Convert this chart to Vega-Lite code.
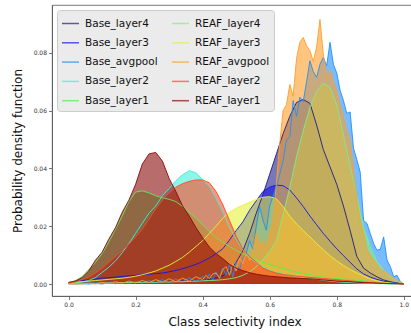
{
"$schema":"https://vega.github.io/schema/vega-lite/v6.json",
"width":365,"height":291,
"autosize":{"type":"none"},
"padding":{"left":52,"top":5,"right":0,"bottom":37},
"config":{"font":"DejaVu Sans","view":{"stroke":"#555555","strokeWidth":0.8},
"axis":{"grid":false,"labelFontSize":6,"labelColor":"#333333","domainColor":"#555555","tickColor":"#555555","tickSize":3.5,"domainWidth":0.8,"tickWidth":0.8,"labelPadding":2,"titleFontSize":12,"titleFontWeight":"normal","titleColor":"#111111","titlePadding":9},
"legend":{"orient":"top-left","offset":5,"columns":2,"symbolType":"stroke","symbolSize":289,"symbolStrokeWidth":1.5,"symbolOpacity":0.7,"labelFontSize":10.5,"labelColor":"#111111","fillColor":"#ebebeb","strokeColor":"#cccccc","cornerRadius":3,"padding":4,"rowPadding":4.3,"columnPadding":11,"labelOffset":5}},
"datasets":{"d":[
{"s":"Base_layer4","x":0,"y":0.0002},{"s":"Base_layer4","x":0.02,"y":0.0003},{"s":"Base_layer4","x":0.04,"y":0.0003},{"s":"Base_layer4","x":0.06,"y":0.0004},{"s":"Base_layer4","x":0.08,"y":0.0004},{"s":"Base_layer4","x":0.1,"y":0.0005},{"s":"Base_layer4","x":0.12,"y":0.0005},{"s":"Base_layer4","x":0.14,"y":0.0005},{"s":"Base_layer4","x":0.16,"y":0.0006},{"s":"Base_layer4","x":0.18,"y":0.0006},{"s":"Base_layer4","x":0.2,"y":0.0006},{"s":"Base_layer4","x":0.22,"y":0.0007},{"s":"Base_layer4","x":0.24,"y":0.0007},{"s":"Base_layer4","x":0.26,"y":0.0007},{"s":"Base_layer4","x":0.28,"y":0.0008},{"s":"Base_layer4","x":0.3,"y":0.0008},{"s":"Base_layer4","x":0.32,"y":0.0009},{"s":"Base_layer4","x":0.34,"y":0.001},{"s":"Base_layer4","x":0.36,"y":0.0011},{"s":"Base_layer4","x":0.38,"y":0.0012},{"s":"Base_layer4","x":0.4,"y":0.0014},{"s":"Base_layer4","x":0.42,"y":0.0017},{"s":"Base_layer4","x":0.44,"y":0.0021},{"s":"Base_layer4","x":0.46,"y":0.0028},{"s":"Base_layer4","x":0.48,"y":0.0045},{"s":"Base_layer4","x":0.5,"y":0.0075},{"s":"Base_layer4","x":0.52,"y":0.0115},{"s":"Base_layer4","x":0.54,"y":0.0175},{"s":"Base_layer4","x":0.56,"y":0.0245},{"s":"Base_layer4","x":0.58,"y":0.031},{"s":"Base_layer4","x":0.6,"y":0.038},{"s":"Base_layer4","x":0.62,"y":0.045},{"s":"Base_layer4","x":0.64,"y":0.052},{"s":"Base_layer4","x":0.66,"y":0.058},{"s":"Base_layer4","x":0.68,"y":0.0628},{"s":"Base_layer4","x":0.7,"y":0.0638},{"s":"Base_layer4","x":0.72,"y":0.0625},{"s":"Base_layer4","x":0.74,"y":0.055},{"s":"Base_layer4","x":0.76,"y":0.0465},{"s":"Base_layer4","x":0.78,"y":0.0405},{"s":"Base_layer4","x":0.8,"y":0.0345},{"s":"Base_layer4","x":0.82,"y":0.027},{"s":"Base_layer4","x":0.84,"y":0.0185},{"s":"Base_layer4","x":0.86,"y":0.0095},{"s":"Base_layer4","x":0.88,"y":0.0055},{"s":"Base_layer4","x":0.9,"y":0.0038},{"s":"Base_layer4","x":0.92,"y":0.0025},{"s":"Base_layer4","x":0.94,"y":0.0014},{"s":"Base_layer4","x":0.96,"y":0.0008},{"s":"Base_layer4","x":0.98,"y":0.0003},{"s":"Base_layer4","x":1,"y":0},
{"s":"Base_layer3","x":0,"y":0.0005},{"s":"Base_layer3","x":0.02,"y":0.001},{"s":"Base_layer3","x":0.04,"y":0.0012},{"s":"Base_layer3","x":0.06,"y":0.0014},{"s":"Base_layer3","x":0.08,"y":0.0017},{"s":"Base_layer3","x":0.1,"y":0.002},{"s":"Base_layer3","x":0.12,"y":0.0022},{"s":"Base_layer3","x":0.14,"y":0.0024},{"s":"Base_layer3","x":0.16,"y":0.0026},{"s":"Base_layer3","x":0.18,"y":0.0028},{"s":"Base_layer3","x":0.2,"y":0.003},{"s":"Base_layer3","x":0.22,"y":0.0032},{"s":"Base_layer3","x":0.24,"y":0.0034},{"s":"Base_layer3","x":0.26,"y":0.0036},{"s":"Base_layer3","x":0.28,"y":0.0038},{"s":"Base_layer3","x":0.3,"y":0.0042},{"s":"Base_layer3","x":0.32,"y":0.0047},{"s":"Base_layer3","x":0.34,"y":0.0053},{"s":"Base_layer3","x":0.36,"y":0.006},{"s":"Base_layer3","x":0.38,"y":0.0068},{"s":"Base_layer3","x":0.4,"y":0.0078},{"s":"Base_layer3","x":0.42,"y":0.009},{"s":"Base_layer3","x":0.44,"y":0.0105},{"s":"Base_layer3","x":0.46,"y":0.0122},{"s":"Base_layer3","x":0.48,"y":0.0152},{"s":"Base_layer3","x":0.5,"y":0.0185},{"s":"Base_layer3","x":0.52,"y":0.0215},{"s":"Base_layer3","x":0.54,"y":0.0255},{"s":"Base_layer3","x":0.56,"y":0.0288},{"s":"Base_layer3","x":0.58,"y":0.032},{"s":"Base_layer3","x":0.6,"y":0.0335},{"s":"Base_layer3","x":0.62,"y":0.0342},{"s":"Base_layer3","x":0.64,"y":0.034},{"s":"Base_layer3","x":0.66,"y":0.0325},{"s":"Base_layer3","x":0.68,"y":0.0298},{"s":"Base_layer3","x":0.7,"y":0.0268},{"s":"Base_layer3","x":0.72,"y":0.0235},{"s":"Base_layer3","x":0.74,"y":0.0205},{"s":"Base_layer3","x":0.76,"y":0.0175},{"s":"Base_layer3","x":0.78,"y":0.0148},{"s":"Base_layer3","x":0.8,"y":0.0122},{"s":"Base_layer3","x":0.82,"y":0.0098},{"s":"Base_layer3","x":0.84,"y":0.0075},{"s":"Base_layer3","x":0.86,"y":0.0052},{"s":"Base_layer3","x":0.88,"y":0.0035},{"s":"Base_layer3","x":0.9,"y":0.0024},{"s":"Base_layer3","x":0.92,"y":0.0016},{"s":"Base_layer3","x":0.94,"y":0.001},{"s":"Base_layer3","x":0.96,"y":0.0006},{"s":"Base_layer3","x":0.98,"y":0.0003},{"s":"Base_layer3","x":1,"y":0},
{"s":"Base_avgpool","x":0,"y":0},{"s":"Base_avgpool","x":0.02,"y":0},{"s":"Base_avgpool","x":0.04,"y":0.0001},{"s":"Base_avgpool","x":0.06,"y":0},{"s":"Base_avgpool","x":0.08,"y":0.0002},{"s":"Base_avgpool","x":0.1,"y":0},{"s":"Base_avgpool","x":0.12,"y":0.0004},{"s":"Base_avgpool","x":0.14,"y":0.0001},{"s":"Base_avgpool","x":0.16,"y":0.0006},{"s":"Base_avgpool","x":0.18,"y":0.0002},{"s":"Base_avgpool","x":0.2,"y":0.0009},{"s":"Base_avgpool","x":0.22,"y":0.0003},{"s":"Base_avgpool","x":0.24,"y":0.0012},{"s":"Base_avgpool","x":0.26,"y":0.0004},{"s":"Base_avgpool","x":0.28,"y":0.0015},{"s":"Base_avgpool","x":0.3,"y":0.0005},{"s":"Base_avgpool","x":0.32,"y":0.0018},{"s":"Base_avgpool","x":0.34,"y":0.0007},{"s":"Base_avgpool","x":0.36,"y":0.0022},{"s":"Base_avgpool","x":0.38,"y":0.0009},{"s":"Base_avgpool","x":0.4,"y":0.0026},{"s":"Base_avgpool","x":0.41,"y":0.001},{"s":"Base_avgpool","x":0.42,"y":0.0035},{"s":"Base_avgpool","x":0.43,"y":0.0014},{"s":"Base_avgpool","x":0.44,"y":0.0042},{"s":"Base_avgpool","x":0.45,"y":0.002},{"s":"Base_avgpool","x":0.46,"y":0.0055},{"s":"Base_avgpool","x":0.47,"y":0.003},{"s":"Base_avgpool","x":0.48,"y":0.0068},{"s":"Base_avgpool","x":0.49,"y":0.0025},{"s":"Base_avgpool","x":0.5,"y":0.0075},{"s":"Base_avgpool","x":0.51,"y":0.005},{"s":"Base_avgpool","x":0.52,"y":0.009},{"s":"Base_avgpool","x":0.53,"y":0.0105},{"s":"Base_avgpool","x":0.54,"y":0.015},{"s":"Base_avgpool","x":0.55,"y":0.012},{"s":"Base_avgpool","x":0.56,"y":0.02},{"s":"Base_avgpool","x":0.57,"y":0.0267},{"s":"Base_avgpool","x":0.58,"y":0.022},{"s":"Base_avgpool","x":0.59,"y":0.0186},{"s":"Base_avgpool","x":0.6,"y":0.027},{"s":"Base_avgpool","x":0.61,"y":0.0305},{"s":"Base_avgpool","x":0.62,"y":0.0336},{"s":"Base_avgpool","x":0.63,"y":0.038},{"s":"Base_avgpool","x":0.64,"y":0.0428},{"s":"Base_avgpool","x":0.65,"y":0.0497},{"s":"Base_avgpool","x":0.66,"y":0.051},{"s":"Base_avgpool","x":0.67,"y":0.0634},{"s":"Base_avgpool","x":0.68,"y":0.058},{"s":"Base_avgpool","x":0.69,"y":0.0646},{"s":"Base_avgpool","x":0.7,"y":0.063},{"s":"Base_avgpool","x":0.71,"y":0.07},{"s":"Base_avgpool","x":0.72,"y":0.0772},{"s":"Base_avgpool","x":0.73,"y":0.0735},{"s":"Base_avgpool","x":0.74,"y":0.0715},{"s":"Base_avgpool","x":0.75,"y":0.076},{"s":"Base_avgpool","x":0.76,"y":0.0784},{"s":"Base_avgpool","x":0.77,"y":0.0755},{"s":"Base_avgpool","x":0.78,"y":0.0836},{"s":"Base_avgpool","x":0.79,"y":0.076},{"s":"Base_avgpool","x":0.8,"y":0.073},{"s":"Base_avgpool","x":0.81,"y":0.067},{"s":"Base_avgpool","x":0.82,"y":0.0635},{"s":"Base_avgpool","x":0.83,"y":0.059},{"s":"Base_avgpool","x":0.84,"y":0.0595},{"s":"Base_avgpool","x":0.85,"y":0.047},{"s":"Base_avgpool","x":0.86,"y":0.043},{"s":"Base_avgpool","x":0.87,"y":0.0387},{"s":"Base_avgpool","x":0.88,"y":0.022},{"s":"Base_avgpool","x":0.89,"y":0.021},{"s":"Base_avgpool","x":0.9,"y":0.0175},{"s":"Base_avgpool","x":0.91,"y":0.014},{"s":"Base_avgpool","x":0.92,"y":0.0117},{"s":"Base_avgpool","x":0.93,"y":0.012},{"s":"Base_avgpool","x":0.94,"y":0.0163},{"s":"Base_avgpool","x":0.95,"y":0.0083},{"s":"Base_avgpool","x":0.96,"y":0.006},{"s":"Base_avgpool","x":0.97,"y":0.0025},{"s":"Base_avgpool","x":0.98,"y":0.003},{"s":"Base_avgpool","x":0.99,"y":0.0008},{"s":"Base_avgpool","x":1,"y":0},
{"s":"Base_layer2","x":0,"y":0.0002},{"s":"Base_layer2","x":0.02,"y":0.0004},{"s":"Base_layer2","x":0.04,"y":0.0007},{"s":"Base_layer2","x":0.06,"y":0.0012},{"s":"Base_layer2","x":0.08,"y":0.0022},{"s":"Base_layer2","x":0.1,"y":0.004},{"s":"Base_layer2","x":0.12,"y":0.0058},{"s":"Base_layer2","x":0.14,"y":0.008},{"s":"Base_layer2","x":0.16,"y":0.0108},{"s":"Base_layer2","x":0.18,"y":0.014},{"s":"Base_layer2","x":0.2,"y":0.0175},{"s":"Base_layer2","x":0.22,"y":0.021},{"s":"Base_layer2","x":0.24,"y":0.0245},{"s":"Base_layer2","x":0.26,"y":0.027},{"s":"Base_layer2","x":0.28,"y":0.0305},{"s":"Base_layer2","x":0.3,"y":0.033},{"s":"Base_layer2","x":0.32,"y":0.0357},{"s":"Base_layer2","x":0.34,"y":0.0378},{"s":"Base_layer2","x":0.36,"y":0.0392},{"s":"Base_layer2","x":0.38,"y":0.0385},{"s":"Base_layer2","x":0.4,"y":0.036},{"s":"Base_layer2","x":0.42,"y":0.0337},{"s":"Base_layer2","x":0.44,"y":0.0295},{"s":"Base_layer2","x":0.46,"y":0.025},{"s":"Base_layer2","x":0.48,"y":0.0195},{"s":"Base_layer2","x":0.5,"y":0.0155},{"s":"Base_layer2","x":0.52,"y":0.0118},{"s":"Base_layer2","x":0.54,"y":0.009},{"s":"Base_layer2","x":0.56,"y":0.0073},{"s":"Base_layer2","x":0.58,"y":0.006},{"s":"Base_layer2","x":0.6,"y":0.0047},{"s":"Base_layer2","x":0.62,"y":0.004},{"s":"Base_layer2","x":0.64,"y":0.0035},{"s":"Base_layer2","x":0.66,"y":0.003},{"s":"Base_layer2","x":0.68,"y":0.0026},{"s":"Base_layer2","x":0.7,"y":0.0022},{"s":"Base_layer2","x":0.72,"y":0.0019},{"s":"Base_layer2","x":0.74,"y":0.0016},{"s":"Base_layer2","x":0.76,"y":0.0013},{"s":"Base_layer2","x":0.78,"y":0.001},{"s":"Base_layer2","x":0.8,"y":0.0008},{"s":"Base_layer2","x":0.82,"y":0.0006},{"s":"Base_layer2","x":0.84,"y":0.0005},{"s":"Base_layer2","x":0.86,"y":0.0004},{"s":"Base_layer2","x":0.88,"y":0.0003},{"s":"Base_layer2","x":0.9,"y":0.0002},{"s":"Base_layer2","x":0.92,"y":0.0001},{"s":"Base_layer2","x":0.94,"y":0.0001},{"s":"Base_layer2","x":0.96,"y":0},{"s":"Base_layer2","x":0.98,"y":0},{"s":"Base_layer2","x":1,"y":0},
{"s":"Base_layer1","x":0,"y":0.0005},{"s":"Base_layer1","x":0.02,"y":0.0012},{"s":"Base_layer1","x":0.04,"y":0.0025},{"s":"Base_layer1","x":0.06,"y":0.005},{"s":"Base_layer1","x":0.08,"y":0.0075},{"s":"Base_layer1","x":0.1,"y":0.0105},{"s":"Base_layer1","x":0.12,"y":0.0145},{"s":"Base_layer1","x":0.14,"y":0.019},{"s":"Base_layer1","x":0.16,"y":0.0235},{"s":"Base_layer1","x":0.18,"y":0.0285},{"s":"Base_layer1","x":0.2,"y":0.0318},{"s":"Base_layer1","x":0.22,"y":0.0322},{"s":"Base_layer1","x":0.24,"y":0.0315},{"s":"Base_layer1","x":0.26,"y":0.0305},{"s":"Base_layer1","x":0.28,"y":0.0298},{"s":"Base_layer1","x":0.3,"y":0.0293},{"s":"Base_layer1","x":0.32,"y":0.0285},{"s":"Base_layer1","x":0.34,"y":0.0268},{"s":"Base_layer1","x":0.36,"y":0.0248},{"s":"Base_layer1","x":0.38,"y":0.0228},{"s":"Base_layer1","x":0.4,"y":0.0205},{"s":"Base_layer1","x":0.42,"y":0.0182},{"s":"Base_layer1","x":0.44,"y":0.016},{"s":"Base_layer1","x":0.46,"y":0.0145},{"s":"Base_layer1","x":0.48,"y":0.013},{"s":"Base_layer1","x":0.5,"y":0.0116},{"s":"Base_layer1","x":0.52,"y":0.0105},{"s":"Base_layer1","x":0.54,"y":0.0094},{"s":"Base_layer1","x":0.56,"y":0.0084},{"s":"Base_layer1","x":0.58,"y":0.0075},{"s":"Base_layer1","x":0.6,"y":0.0067},{"s":"Base_layer1","x":0.62,"y":0.006},{"s":"Base_layer1","x":0.64,"y":0.0053},{"s":"Base_layer1","x":0.66,"y":0.0047},{"s":"Base_layer1","x":0.68,"y":0.0041},{"s":"Base_layer1","x":0.7,"y":0.0036},{"s":"Base_layer1","x":0.72,"y":0.0031},{"s":"Base_layer1","x":0.74,"y":0.0027},{"s":"Base_layer1","x":0.76,"y":0.0024},{"s":"Base_layer1","x":0.78,"y":0.0021},{"s":"Base_layer1","x":0.8,"y":0.0019},{"s":"Base_layer1","x":0.82,"y":0.0017},{"s":"Base_layer1","x":0.84,"y":0.0015},{"s":"Base_layer1","x":0.86,"y":0.0013},{"s":"Base_layer1","x":0.88,"y":0.0011},{"s":"Base_layer1","x":0.9,"y":0.0009},{"s":"Base_layer1","x":0.92,"y":0.0007},{"s":"Base_layer1","x":0.94,"y":0.0005},{"s":"Base_layer1","x":0.96,"y":0.0003},{"s":"Base_layer1","x":0.98,"y":0.0002},{"s":"Base_layer1","x":1,"y":0},
{"s":"REAF_layer4","x":0,"y":0.0002},{"s":"REAF_layer4","x":0.02,"y":0.0002},{"s":"REAF_layer4","x":0.04,"y":0.0003},{"s":"REAF_layer4","x":0.06,"y":0.0003},{"s":"REAF_layer4","x":0.08,"y":0.0003},{"s":"REAF_layer4","x":0.1,"y":0.0004},{"s":"REAF_layer4","x":0.12,"y":0.0004},{"s":"REAF_layer4","x":0.14,"y":0.0004},{"s":"REAF_layer4","x":0.16,"y":0.0005},{"s":"REAF_layer4","x":0.18,"y":0.0005},{"s":"REAF_layer4","x":0.2,"y":0.0005},{"s":"REAF_layer4","x":0.22,"y":0.0006},{"s":"REAF_layer4","x":0.24,"y":0.0006},{"s":"REAF_layer4","x":0.26,"y":0.0006},{"s":"REAF_layer4","x":0.28,"y":0.0007},{"s":"REAF_layer4","x":0.3,"y":0.0007},{"s":"REAF_layer4","x":0.32,"y":0.0008},{"s":"REAF_layer4","x":0.34,"y":0.0008},{"s":"REAF_layer4","x":0.36,"y":0.0009},{"s":"REAF_layer4","x":0.38,"y":0.001},{"s":"REAF_layer4","x":0.4,"y":0.0011},{"s":"REAF_layer4","x":0.42,"y":0.0012},{"s":"REAF_layer4","x":0.44,"y":0.0013},{"s":"REAF_layer4","x":0.46,"y":0.0015},{"s":"REAF_layer4","x":0.48,"y":0.0018},{"s":"REAF_layer4","x":0.5,"y":0.0022},{"s":"REAF_layer4","x":0.52,"y":0.003},{"s":"REAF_layer4","x":0.54,"y":0.0042},{"s":"REAF_layer4","x":0.56,"y":0.006},{"s":"REAF_layer4","x":0.58,"y":0.0085},{"s":"REAF_layer4","x":0.6,"y":0.0112},{"s":"REAF_layer4","x":0.62,"y":0.015},{"s":"REAF_layer4","x":0.64,"y":0.024},{"s":"REAF_layer4","x":0.66,"y":0.0335},{"s":"REAF_layer4","x":0.68,"y":0.044},{"s":"REAF_layer4","x":0.7,"y":0.053},{"s":"REAF_layer4","x":0.72,"y":0.0611},{"s":"REAF_layer4","x":0.74,"y":0.0665},{"s":"REAF_layer4","x":0.76,"y":0.0695},{"s":"REAF_layer4","x":0.78,"y":0.068},{"s":"REAF_layer4","x":0.8,"y":0.062},{"s":"REAF_layer4","x":0.82,"y":0.0515},{"s":"REAF_layer4","x":0.84,"y":0.041},{"s":"REAF_layer4","x":0.86,"y":0.0302},{"s":"REAF_layer4","x":0.88,"y":0.0195},{"s":"REAF_layer4","x":0.9,"y":0.0129},{"s":"REAF_layer4","x":0.92,"y":0.0078},{"s":"REAF_layer4","x":0.94,"y":0.0048},{"s":"REAF_layer4","x":0.96,"y":0.0025},{"s":"REAF_layer4","x":0.98,"y":0.0012},{"s":"REAF_layer4","x":1,"y":0},
{"s":"REAF_layer3","x":0,"y":0.0005},{"s":"REAF_layer3","x":0.02,"y":0.0007},{"s":"REAF_layer3","x":0.04,"y":0.0008},{"s":"REAF_layer3","x":0.06,"y":0.001},{"s":"REAF_layer3","x":0.08,"y":0.0012},{"s":"REAF_layer3","x":0.1,"y":0.0014},{"s":"REAF_layer3","x":0.12,"y":0.0016},{"s":"REAF_layer3","x":0.14,"y":0.0018},{"s":"REAF_layer3","x":0.16,"y":0.002},{"s":"REAF_layer3","x":0.18,"y":0.0023},{"s":"REAF_layer3","x":0.2,"y":0.0027},{"s":"REAF_layer3","x":0.22,"y":0.0032},{"s":"REAF_layer3","x":0.24,"y":0.0038},{"s":"REAF_layer3","x":0.26,"y":0.0045},{"s":"REAF_layer3","x":0.28,"y":0.0055},{"s":"REAF_layer3","x":0.3,"y":0.0065},{"s":"REAF_layer3","x":0.32,"y":0.0078},{"s":"REAF_layer3","x":0.34,"y":0.0092},{"s":"REAF_layer3","x":0.36,"y":0.011},{"s":"REAF_layer3","x":0.38,"y":0.013},{"s":"REAF_layer3","x":0.4,"y":0.015},{"s":"REAF_layer3","x":0.42,"y":0.0175},{"s":"REAF_layer3","x":0.44,"y":0.02},{"s":"REAF_layer3","x":0.46,"y":0.0228},{"s":"REAF_layer3","x":0.48,"y":0.0248},{"s":"REAF_layer3","x":0.5,"y":0.0262},{"s":"REAF_layer3","x":0.52,"y":0.0272},{"s":"REAF_layer3","x":0.54,"y":0.0283},{"s":"REAF_layer3","x":0.56,"y":0.0292},{"s":"REAF_layer3","x":0.58,"y":0.03},{"s":"REAF_layer3","x":0.6,"y":0.0302},{"s":"REAF_layer3","x":0.62,"y":0.0295},{"s":"REAF_layer3","x":0.64,"y":0.0268},{"s":"REAF_layer3","x":0.66,"y":0.0235},{"s":"REAF_layer3","x":0.68,"y":0.0208},{"s":"REAF_layer3","x":0.7,"y":0.0185},{"s":"REAF_layer3","x":0.72,"y":0.0163},{"s":"REAF_layer3","x":0.74,"y":0.014},{"s":"REAF_layer3","x":0.76,"y":0.0118},{"s":"REAF_layer3","x":0.78,"y":0.0098},{"s":"REAF_layer3","x":0.8,"y":0.008},{"s":"REAF_layer3","x":0.82,"y":0.0064},{"s":"REAF_layer3","x":0.84,"y":0.005},{"s":"REAF_layer3","x":0.86,"y":0.0038},{"s":"REAF_layer3","x":0.88,"y":0.0028},{"s":"REAF_layer3","x":0.9,"y":0.0018},{"s":"REAF_layer3","x":0.92,"y":0.0011},{"s":"REAF_layer3","x":0.94,"y":0.0006},{"s":"REAF_layer3","x":0.96,"y":0.0003},{"s":"REAF_layer3","x":0.98,"y":0.0001},{"s":"REAF_layer3","x":1,"y":0},
{"s":"REAF_avgpool","x":0,"y":0},{"s":"REAF_avgpool","x":0.02,"y":0},{"s":"REAF_avgpool","x":0.04,"y":0},{"s":"REAF_avgpool","x":0.06,"y":0.0003},{"s":"REAF_avgpool","x":0.08,"y":0},{"s":"REAF_avgpool","x":0.1,"y":0.0005},{"s":"REAF_avgpool","x":0.12,"y":0.0002},{"s":"REAF_avgpool","x":0.14,"y":0.0008},{"s":"REAF_avgpool","x":0.16,"y":0.0003},{"s":"REAF_avgpool","x":0.18,"y":0.001},{"s":"REAF_avgpool","x":0.2,"y":0.0004},{"s":"REAF_avgpool","x":0.22,"y":0.0012},{"s":"REAF_avgpool","x":0.24,"y":0.0005},{"s":"REAF_avgpool","x":0.26,"y":0.0015},{"s":"REAF_avgpool","x":0.28,"y":0.0006},{"s":"REAF_avgpool","x":0.3,"y":0.0018},{"s":"REAF_avgpool","x":0.32,"y":0.0008},{"s":"REAF_avgpool","x":0.34,"y":0.002},{"s":"REAF_avgpool","x":0.36,"y":0.001},{"s":"REAF_avgpool","x":0.38,"y":0.0025},{"s":"REAF_avgpool","x":0.4,"y":0.0015},{"s":"REAF_avgpool","x":0.41,"y":0.003},{"s":"REAF_avgpool","x":0.42,"y":0.0018},{"s":"REAF_avgpool","x":0.43,"y":0.0035},{"s":"REAF_avgpool","x":0.44,"y":0.0038},{"s":"REAF_avgpool","x":0.45,"y":0.002},{"s":"REAF_avgpool","x":0.46,"y":0.005},{"s":"REAF_avgpool","x":0.47,"y":0.006},{"s":"REAF_avgpool","x":0.48,"y":0.003},{"s":"REAF_avgpool","x":0.49,"y":0.007},{"s":"REAF_avgpool","x":0.5,"y":0.0045},{"s":"REAF_avgpool","x":0.51,"y":0.009},{"s":"REAF_avgpool","x":0.52,"y":0.007},{"s":"REAF_avgpool","x":0.53,"y":0.0106},{"s":"REAF_avgpool","x":0.54,"y":0.008},{"s":"REAF_avgpool","x":0.55,"y":0.012},{"s":"REAF_avgpool","x":0.56,"y":0.0175},{"s":"REAF_avgpool","x":0.57,"y":0.013},{"s":"REAF_avgpool","x":0.58,"y":0.015},{"s":"REAF_avgpool","x":0.59,"y":0.0117},{"s":"REAF_avgpool","x":0.6,"y":0.018},{"s":"REAF_avgpool","x":0.61,"y":0.021},{"s":"REAF_avgpool","x":0.62,"y":0.035},{"s":"REAF_avgpool","x":0.63,"y":0.0486},{"s":"REAF_avgpool","x":0.64,"y":0.06},{"s":"REAF_avgpool","x":0.65,"y":0.062},{"s":"REAF_avgpool","x":0.66,"y":0.069},{"s":"REAF_avgpool","x":0.67,"y":0.065},{"s":"REAF_avgpool","x":0.68,"y":0.078},{"s":"REAF_avgpool","x":0.69,"y":0.0836},{"s":"REAF_avgpool","x":0.7,"y":0.0853},{"s":"REAF_avgpool","x":0.71,"y":0.0824},{"s":"REAF_avgpool","x":0.72,"y":0.0807},{"s":"REAF_avgpool","x":0.73,"y":0.077},{"s":"REAF_avgpool","x":0.74,"y":0.082},{"s":"REAF_avgpool","x":0.75,"y":0.0915},{"s":"REAF_avgpool","x":0.76,"y":0.0795},{"s":"REAF_avgpool","x":0.77,"y":0.0715},{"s":"REAF_avgpool","x":0.78,"y":0.074},{"s":"REAF_avgpool","x":0.79,"y":0.07},{"s":"REAF_avgpool","x":0.8,"y":0.067},{"s":"REAF_avgpool","x":0.81,"y":0.062},{"s":"REAF_avgpool","x":0.82,"y":0.0577},{"s":"REAF_avgpool","x":0.83,"y":0.053},{"s":"REAF_avgpool","x":0.84,"y":0.0497},{"s":"REAF_avgpool","x":0.85,"y":0.04},{"s":"REAF_avgpool","x":0.86,"y":0.029},{"s":"REAF_avgpool","x":0.87,"y":0.022},{"s":"REAF_avgpool","x":0.88,"y":0.0175},{"s":"REAF_avgpool","x":0.89,"y":0.012},{"s":"REAF_avgpool","x":0.9,"y":0.01},{"s":"REAF_avgpool","x":0.91,"y":0.0083},{"s":"REAF_avgpool","x":0.92,"y":0.007},{"s":"REAF_avgpool","x":0.93,"y":0.005},{"s":"REAF_avgpool","x":0.94,"y":0.0045},{"s":"REAF_avgpool","x":0.95,"y":0.0038},{"s":"REAF_avgpool","x":0.96,"y":0.003},{"s":"REAF_avgpool","x":0.97,"y":0.002},{"s":"REAF_avgpool","x":0.98,"y":0.0014},{"s":"REAF_avgpool","x":0.99,"y":0.0005},{"s":"REAF_avgpool","x":1,"y":0},
{"s":"REAF_layer2","x":0,"y":0.0003},{"s":"REAF_layer2","x":0.02,"y":0.0008},{"s":"REAF_layer2","x":0.04,"y":0.0015},{"s":"REAF_layer2","x":0.06,"y":0.0024},{"s":"REAF_layer2","x":0.08,"y":0.0038},{"s":"REAF_layer2","x":0.1,"y":0.0055},{"s":"REAF_layer2","x":0.12,"y":0.0075},{"s":"REAF_layer2","x":0.14,"y":0.0095},{"s":"REAF_layer2","x":0.16,"y":0.0115},{"s":"REAF_layer2","x":0.18,"y":0.0138},{"s":"REAF_layer2","x":0.2,"y":0.0163},{"s":"REAF_layer2","x":0.22,"y":0.019},{"s":"REAF_layer2","x":0.24,"y":0.0225},{"s":"REAF_layer2","x":0.26,"y":0.026},{"s":"REAF_layer2","x":0.28,"y":0.029},{"s":"REAF_layer2","x":0.3,"y":0.0315},{"s":"REAF_layer2","x":0.32,"y":0.0335},{"s":"REAF_layer2","x":0.34,"y":0.0347},{"s":"REAF_layer2","x":0.36,"y":0.0355},{"s":"REAF_layer2","x":0.38,"y":0.036},{"s":"REAF_layer2","x":0.4,"y":0.036},{"s":"REAF_layer2","x":0.42,"y":0.035},{"s":"REAF_layer2","x":0.44,"y":0.032},{"s":"REAF_layer2","x":0.46,"y":0.0275},{"s":"REAF_layer2","x":0.48,"y":0.022},{"s":"REAF_layer2","x":0.5,"y":0.0165},{"s":"REAF_layer2","x":0.52,"y":0.012},{"s":"REAF_layer2","x":0.54,"y":0.0095},{"s":"REAF_layer2","x":0.56,"y":0.0075},{"s":"REAF_layer2","x":0.58,"y":0.0055},{"s":"REAF_layer2","x":0.6,"y":0.0045},{"s":"REAF_layer2","x":0.62,"y":0.0038},{"s":"REAF_layer2","x":0.64,"y":0.0033},{"s":"REAF_layer2","x":0.66,"y":0.003},{"s":"REAF_layer2","x":0.68,"y":0.0027},{"s":"REAF_layer2","x":0.7,"y":0.0025},{"s":"REAF_layer2","x":0.72,"y":0.0023},{"s":"REAF_layer2","x":0.74,"y":0.0021},{"s":"REAF_layer2","x":0.76,"y":0.0019},{"s":"REAF_layer2","x":0.78,"y":0.0017},{"s":"REAF_layer2","x":0.8,"y":0.0015},{"s":"REAF_layer2","x":0.82,"y":0.0013},{"s":"REAF_layer2","x":0.84,"y":0.0011},{"s":"REAF_layer2","x":0.86,"y":0.0009},{"s":"REAF_layer2","x":0.88,"y":0.0007},{"s":"REAF_layer2","x":0.9,"y":0.0005},{"s":"REAF_layer2","x":0.92,"y":0.0004},{"s":"REAF_layer2","x":0.94,"y":0.0003},{"s":"REAF_layer2","x":0.96,"y":0.0002},{"s":"REAF_layer2","x":0.98,"y":0.0001},{"s":"REAF_layer2","x":1,"y":0},
{"s":"REAF_layer1","x":0,"y":0.0005},{"s":"REAF_layer1","x":0.02,"y":0.001},{"s":"REAF_layer1","x":0.04,"y":0.0022},{"s":"REAF_layer1","x":0.06,"y":0.0045},{"s":"REAF_layer1","x":0.08,"y":0.0082},{"s":"REAF_layer1","x":0.1,"y":0.011},{"s":"REAF_layer1","x":0.12,"y":0.0155},{"s":"REAF_layer1","x":0.14,"y":0.0195},{"s":"REAF_layer1","x":0.16,"y":0.0248},{"s":"REAF_layer1","x":0.18,"y":0.029},{"s":"REAF_layer1","x":0.2,"y":0.0345},{"s":"REAF_layer1","x":0.22,"y":0.0415},{"s":"REAF_layer1","x":0.24,"y":0.045},{"s":"REAF_layer1","x":0.26,"y":0.0455},{"s":"REAF_layer1","x":0.28,"y":0.0425},{"s":"REAF_layer1","x":0.3,"y":0.0365},{"s":"REAF_layer1","x":0.32,"y":0.032},{"s":"REAF_layer1","x":0.34,"y":0.027},{"s":"REAF_layer1","x":0.36,"y":0.0235},{"s":"REAF_layer1","x":0.38,"y":0.0195},{"s":"REAF_layer1","x":0.4,"y":0.016},{"s":"REAF_layer1","x":0.42,"y":0.0128},{"s":"REAF_layer1","x":0.44,"y":0.0105},{"s":"REAF_layer1","x":0.46,"y":0.0088},{"s":"REAF_layer1","x":0.48,"y":0.0068},{"s":"REAF_layer1","x":0.5,"y":0.0055},{"s":"REAF_layer1","x":0.52,"y":0.0046},{"s":"REAF_layer1","x":0.54,"y":0.0039},{"s":"REAF_layer1","x":0.56,"y":0.0034},{"s":"REAF_layer1","x":0.58,"y":0.003},{"s":"REAF_layer1","x":0.6,"y":0.0027},{"s":"REAF_layer1","x":0.62,"y":0.0025},{"s":"REAF_layer1","x":0.64,"y":0.0023},{"s":"REAF_layer1","x":0.66,"y":0.0021},{"s":"REAF_layer1","x":0.68,"y":0.002},{"s":"REAF_layer1","x":0.7,"y":0.0019},{"s":"REAF_layer1","x":0.72,"y":0.0018},{"s":"REAF_layer1","x":0.74,"y":0.0016},{"s":"REAF_layer1","x":0.76,"y":0.0014},{"s":"REAF_layer1","x":0.78,"y":0.0012},{"s":"REAF_layer1","x":0.8,"y":0.001},{"s":"REAF_layer1","x":0.82,"y":0.0009},{"s":"REAF_layer1","x":0.84,"y":0.0008},{"s":"REAF_layer1","x":0.86,"y":0.0006},{"s":"REAF_layer1","x":0.88,"y":0.0005},{"s":"REAF_layer1","x":0.9,"y":0.0004},{"s":"REAF_layer1","x":0.92,"y":0.0003},{"s":"REAF_layer1","x":0.94,"y":0.0002},{"s":"REAF_layer1","x":0.96,"y":0.0001},{"s":"REAF_layer1","x":0.98,"y":0.0001},{"s":"REAF_layer1","x":1,"y":0}
]},
"data":{"name":"d"},
"encoding":{
"x":{"field":"x","type":"quantitative","scale":{"domain":[-0.0495,1.0395],"nice":false,"zero":false},"axis":{"values":[0,0.2,0.4,0.6,0.8,1.0],"format":".1f","title":"Class selectivity index"}},
"y":{"field":"y","type":"quantitative","stack":null,"scale":{"domain":[-0.00415,0.0965],"nice":false,"zero":false},"axis":{"values":[0,0.02,0.04,0.06,0.08],"format":".2f","title":"Probability density function"}},
"color":{"field":"s","type":"nominal","legend":{"title":null},
"scale":{"domain":["Base_layer4","Base_layer3","Base_avgpool","Base_layer2","Base_layer1","REAF_layer4","REAF_layer3","REAF_avgpool","REAF_layer2","REAF_layer1"],
"range":["#1c1c8a","#1515e6","#1e90ff","#3ff0d8","#55f055","#80ee80","#e5f23a","#ff9f2a","#ff4a25","#8b0a0a"]}}
},
"layer":[
{"mark":{"type":"area","fillOpacity":0.6,"interpolate":"linear"}},
{"mark":{"type":"line","strokeWidth":1,"opacity":0.9}}
]
}
